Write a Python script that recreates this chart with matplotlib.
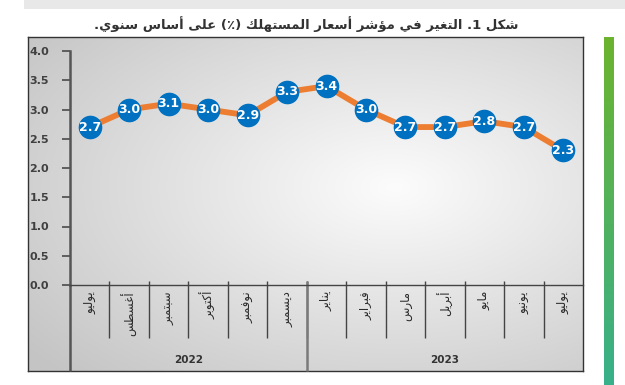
import re
import numpy as np
import matplotlib
matplotlib.use("Agg")
import matplotlib.pyplot as plt
from matplotlib.colors import to_rgb

# data
months = ["يوليو", "أغسطس", "سبتمبر", "أكتوبر", "نوفمبر", "ديسمبر",
          "يناير", "فبراير", "مارس", "أبريل", "مايو", "يونيو", "يوليو"]
years = ["2022", "2023"]
year_counts = [6, 7]
cpi = [2.7, 3.0, 3.1, 3.0, 2.9, 3.3, 3.4, 3.0, 2.7, 2.7, 2.8, 2.7, 2.3]
yticks = [0.0, 0.5, 1.0, 1.5, 2.0, 2.5, 3.0, 3.5, 4.0]
title = "شكل 1. التغير في مؤشر أسعار المستهلك (٪) على أساس سنوي."

# arabic shaping by hand (no reshaper lib here): iso, final, initial, medial
FORMS = {
    'ا': (0xFE8D, 0xFE8E, None, None), 'أ': (0xFE83, 0xFE84, None, None),
    'ؤ': (0xFE85, 0xFE86, None, None), 'د': (0xFEA9, 0xFEAA, None, None),
    'ر': (0xFEAD, 0xFEAE, None, None), 'و': (0xFEED, 0xFEEE, None, None),
    'ى': (0xFEEF, 0xFEF0, None, None),
    'ب': (0xFE8F, 0xFE90, 0xFE91, 0xFE92), 'ت': (0xFE95, 0xFE96, 0xFE97, 0xFE98),
    'س': (0xFEB1, 0xFEB2, 0xFEB3, 0xFEB4), 'ش': (0xFEB5, 0xFEB6, 0xFEB7, 0xFEB8),
    'ط': (0xFEC1, 0xFEC2, 0xFEC3, 0xFEC4), 'ع': (0xFEC9, 0xFECA, 0xFECB, 0xFECC),
    'غ': (0xFECD, 0xFECE, 0xFECF, 0xFED0), 'ف': (0xFED1, 0xFED2, 0xFED3, 0xFED4),
    'ك': (0xFED9, 0xFEDA, 0xFEDB, 0xFEDC), 'ل': (0xFEDD, 0xFEDE, 0xFEDF, 0xFEE0),
    'م': (0xFEE1, 0xFEE2, 0xFEE3, 0xFEE4), 'ن': (0xFEE5, 0xFEE6, 0xFEE7, 0xFEE8),
    'ه': (0xFEE9, 0xFEEA, 0xFEEB, 0xFEEC), 'ي': (0xFEF1, 0xFEF2, 0xFEF3, 0xFEF4),
}
DUAL = set('بتسشطعغفكلمنهي')


def shape(s):
    out = []
    for i, ch in enumerate(s):
        if ch not in FORMS:
            out.append(ch)
            continue
        prev = s[i - 1] if i > 0 else ''
        nxt = s[i + 1] if i + 1 < len(s) else ''
        jp = prev in DUAL
        jn = ch in DUAL and nxt in FORMS
        iso, fin, ini, med = FORMS[ch]
        if jp and jn:
            c = med
        elif jp:
            c = fin
        elif jn:
            c = ini
        else:
            c = iso
        out.append(chr(c))
    vis = ''.join(out)[::-1]
    vis = re.sub(r'[0-9]+', lambda m: m.group(0)[::-1], vis)
    return vis.translate(str.maketrans('()', ')('))


W, H = 625, 385
fig = plt.figure(figsize=(W / 100, H / 100), dpi=100)
fig.patch.set_facecolor("white")

def fbox(x0, y0, x1, y1):
    # pixel box (top-left origin) -> figure rect
    return [x0 / W, 1 - y1 / H, (x1 - x0) / W, (y1 - y0) / H]

# top grey band
band = fig.add_axes(fbox(24, 0, 625, 9))
band.set_facecolor("#e8e8e8")
band.set_xticks([]); band.set_yticks([])
for s in band.spines.values():
    s.set_visible(False)

fig.text(306 / W, 1 - 24 / H, shape(title), ha="center", va="center",
         fontsize=9.5, fontweight="bold", color="#333333", family="DejaVu Sans")

# green side bar
gbar = fig.add_axes(fbox(604, 37, 614, 385))
top_c = np.array(to_rgb("#6cb42e"))
bot_c = np.array(to_rgb("#38b08a"))
t = np.linspace(0, 1, 200)[:, None]
grad = (top_c[None, :] * (1 - t) + bot_c[None, :] * t)[:, None, :]
gbar.imshow(grad, aspect="auto", extent=(0, 1, 0, 1))
gbar.axis("off")

# chart box with radial grey gradient
bg = fig.add_axes(fbox(28, 37, 583, 371))
nx, ny = 300, 180
xx, yy = np.meshgrid(np.linspace(0, 1, nx), np.linspace(0, 1, ny))
d = np.sqrt(((xx - 0.66) / 0.85) ** 2 + ((yy - 0.45) / 0.8) ** 2)
d = np.clip(d, 0, 1)[..., None]
light = np.array(to_rgb("#fcfcfc"))
dark = np.array(to_rgb("#c4c4c4"))
img = light * (1 - d) + dark * d
bg.imshow(img, aspect="auto", extent=(0, 1, 0, 1))
bg.set_xticks([]); bg.set_yticks([])
for s in bg.spines.values():
    s.set_color("#333333")
    s.set_linewidth(1.0)

# main plot
ax = fig.add_axes(fbox(70, 51, 583, 285))
ax.patch.set_alpha(0)
x = np.arange(len(months))
ax.plot(x, cpi, color="#ed7d31", lw=4.2, zorder=2, solid_capstyle="round")
ax.plot(x, cpi, "o", ms=16, color="#0070c0", mec="#0070c0", zorder=3)
for xi, v in zip(x, cpi):
    ax.text(xi, v, f"{v:.1f}", ha="center", va="center", color="white",
            fontsize=9, fontweight="bold", zorder=4)

ax.set_xlim(-0.5, len(months) - 0.5)
ax.set_ylim(0, 4)
ax.set_yticks(yticks)
ax.set_yticklabels([f"{v:.1f}" for v in yticks], fontsize=8, fontweight="bold",
                   color="#404040")
ax.tick_params(axis="y", direction="out", length=6, width=1.3, color="#555555", pad=9)
ax.set_xticks([])
for side in ["top", "right"]:
    ax.spines[side].set_visible(False)
ax.spines["left"].set_color("#555555")
ax.spines["left"].set_linewidth(1.8)
ax.spines["bottom"].set_color("#444444")
ax.spines["bottom"].set_linewidth(1.0)

# category axis below the plot
tr = ax.get_xaxis_transform()
ax_h = 285 - 51
y_tick_bot = -(338 - 285) / ax_h
y_box_bot = -(371 - 285) / ax_h
y_tick_top = 4 / ax_h
bounds = np.arange(len(months) + 1) - 0.5
ax.vlines(bounds[1:-1], y_tick_bot, y_tick_top, transform=tr, colors="#444444",
          lw=1.0, clip_on=False)
ax.vlines([bounds[0]], y_box_bot, 0, transform=tr, colors="#555555", lw=1.8,
          clip_on=False)
start = 0
for yr, n in zip(years, year_counts):
    if start > 0:
        ax.vlines([bounds[start]], y_box_bot, y_tick_top, transform=tr,
                  colors="#7a7a7a", lw=1.8, clip_on=False)
    ax.text((bounds[start] + bounds[start + n]) / 2, -(360 - 285) / ax_h, yr,
            transform=tr, ha="center", va="center", fontsize=7.5, fontweight="bold",
            color="#333333")
    start += n

for xi, m in zip(x, months):
    ax.text(xi, -(291 - 285) / ax_h, shape(m), transform=tr, rotation=90,
            ha="center", va="top", fontsize=8.5, color="#2a2a2a",
            family="DejaVu Sans")

fig.savefig("out.png", dpi=100)
